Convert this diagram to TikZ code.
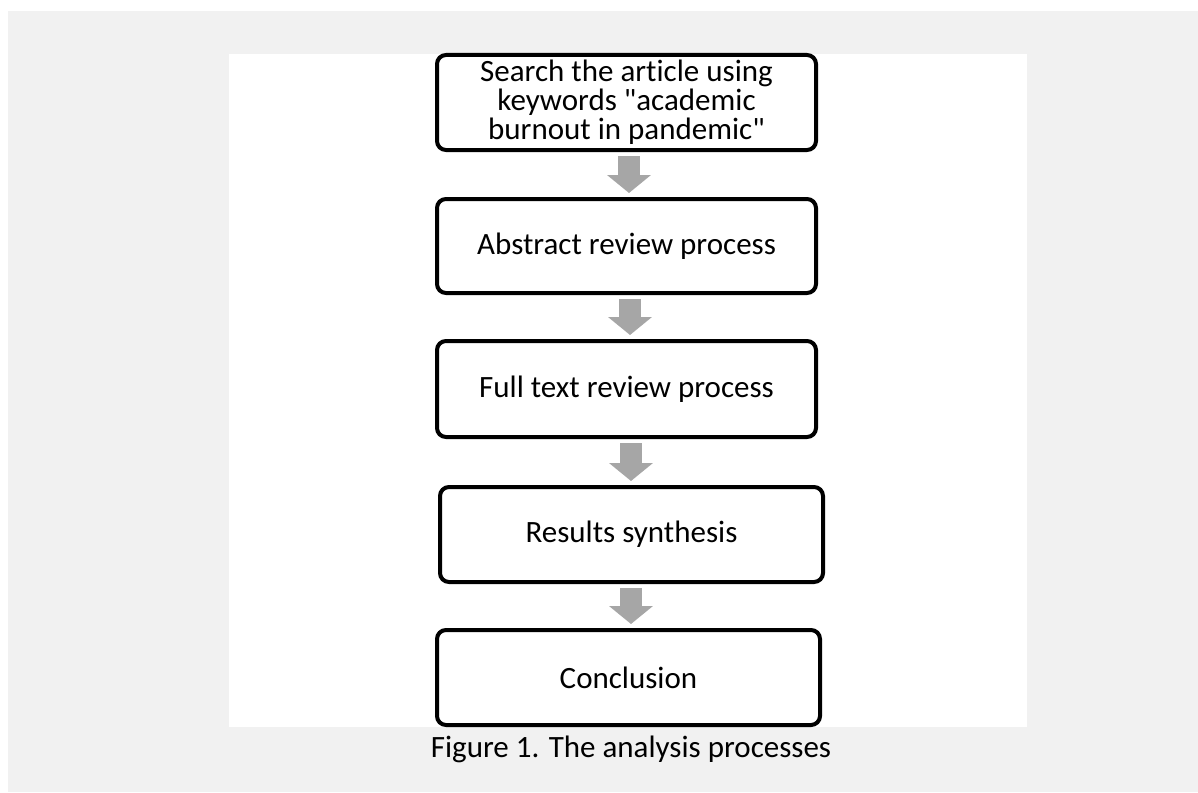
\documentclass[tikz,border=0pt]{standalone}
\usepackage{fontspec}
\setmainfont{Carlito}[Ligatures={TeXOff,NoCommon}]
\usetikzlibrary{arrows.meta}
\definecolor{bggray}{HTML}{F1F1F1}
\definecolor{arrowgray}{HTML}{A6A6A6}
\tikzset{
  stepbox/.style={draw=black, line width=4pt, rounded corners=9pt, fill=white,
    align=center, inner sep=0pt, font=\fontsize{31}{29}\selectfont},
  flowarrow/.style={draw=arrowgray, line width=22pt,
    -{Triangle[width=43pt,length=18pt]}, shorten <=4pt, shorten >=4pt},
  captiontext/.style={font=\fontsize{31}{36}\selectfont, inner sep=0pt, anchor=base}
}
\begin{document}
\begin{tikzpicture}[x=1pt,y=-1pt]
\useasboundingbox (0,0) rectangle (1198,792);
\fill[white] (0,0) rectangle (1198,792);
\fill[bggray] (8,11) rectangle (1198,792);
\fill[white] (229,54) rectangle (1027,727);

\node[stepbox, minimum width=379pt, minimum height=95pt] (s1) at (626.5,102.5)
  {Search the article using\\keywords "academic\\burnout in pandemic"};
\node[stepbox, minimum width=379pt, minimum height=94pt] (s2) at (626.5,246)
  {Abstract review process};
\node[stepbox, minimum width=379pt, minimum height=96pt] (s3) at (626.5,389)
  {Full text review process};
\node[stepbox, minimum width=383pt, minimum height=95pt] (s4) at (631.5,534.5)
  {Results synthesis};
\node[stepbox, minimum width=383pt, minimum height=95pt] (s5) at (628.5,677.5)
  {Conclusion};

\draw[flowarrow] ([xshift=2.5pt]s1.south) -- ([xshift=2.5pt]s1.south |- s2.north);
\draw[flowarrow] ([xshift=3.5pt]s2.south) -- ([xshift=3.5pt]s2.south |- s3.north);
\draw[flowarrow] ([xshift=4.5pt]s3.south) -- ([xshift=4.5pt]s3.south |- s4.north);
\draw[flowarrow] ([xshift=-0.5pt]s4.south) -- ([xshift=-0.5pt]s4.south |- s5.north);

\node[captiontext] (cap) at (631,757) {Figure 1. The analysis processes};
\end{tikzpicture}
\end{document}
